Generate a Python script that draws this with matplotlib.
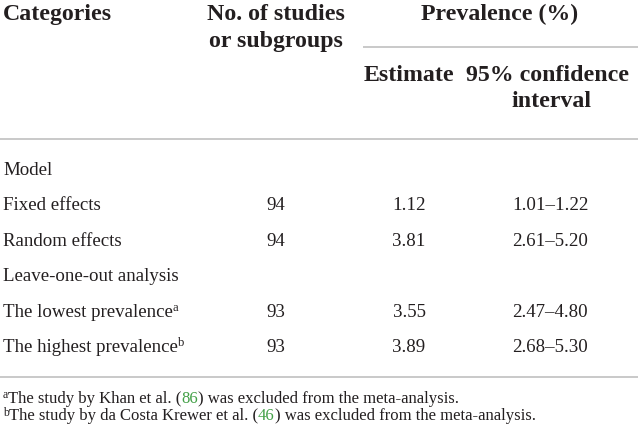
import matplotlib
matplotlib.use("Agg")
import matplotlib.pyplot as plt

# ---- data ----
categories = ["Model", "Fixed effects", "Random effects", "Leave-one-out analysis",
              "The lowest prevalence", "The highest prevalence"]
superscripts = [None, None, None, None, "a", "b"]
n_studies = [None, 94, 94, None, 93, 93]
estimates = [None, 1.12, 3.81, None, 3.55, 3.89]
ci_low = [None, 1.01, 2.61, None, 2.47, 2.68]
ci_high = [None, 1.22, 5.20, None, 4.80, 5.30]
footnotes = [
    ("a", "The study by Khan et al. (", "86", ") was excluded from the meta-analysis."),
    ("b", "The study by da Costa Krewer et al. (", "46", ") was excluded from the meta-analysis."),
]

FONT = "Liberation Serif"
TXT = "#231f20"
GREEN = "#43a047"
RULE = "#c9c9c9"
HS = 17.2   # header size
BS = 13.6   # body size
FS = 12.0   # footnote size

W, H = 638, 434
fig = plt.figure(figsize=(W / 100, H / 100), dpi=100)
ax = fig.add_axes([0, 0, 1, 1])
ax.set_xlim(0, W)
ax.set_ylim(H, 0)
ax.axis("off")
renderer = fig.canvas.get_renderer()


def seq(x, y, segs):
    """segs: list of (text, size, color, weight, dy)"""
    for text, size, color, weight, dy in segs:
        t = ax.text(x, y + dy, text, fontsize=size, color=color, fontweight=weight,
                    family=FONT, ha="left", va="baseline")
        bb = t.get_window_extent(renderer)
        x += bb.width


def txt(x, y, s, size=BS, weight="normal", ha="center"):
    ax.text(x, y, s, fontsize=size, color=TXT, fontweight=weight, family=FONT,
            ha=ha, va="baseline")


# ---- header ----
col_cat = 3
col_n = 276
col_est = 409
col_ci = 548

txt(col_cat, 20, "Categories", HS, "bold", ha="left")
txt(col_n, 20, "No. of studies", HS, "bold")
txt(col_n, 47, "or subgroups", HS, "bold")
txt(500, 20, "Prevalence (%)", HS, "bold")
ax.plot([363, W], [46.5, 46.5], color=RULE, lw=1.4, solid_capstyle="butt")
txt(col_est, 81, "Estimate", HS, "bold")
txt(col_ci, 81, "95% confidence", HS, "bold")
txt(col_ci + 3, 107, "interval", HS, "bold")
ax.plot([0, W], [139, 139], color=RULE, lw=1.4, solid_capstyle="butt")

# ---- body ----
y0, pitch = 175, 35.4
for i, cat in enumerate(categories):
    y = y0 + i * pitch
    segs = [(cat, BS, TXT, "normal", 0)]
    if superscripts[i]:
        segs.append((superscripts[i], BS * 0.66, TXT, "normal", -6))
    seq(col_cat, y, segs)
    if n_studies[i] is not None:
        txt(col_n, y, f"{n_studies[i]}")
    if estimates[i] is not None:
        txt(col_est, y, f"{estimates[i]:.2f}")
    if ci_low[i] is not None:
        txt(col_ci + 2, y, f"{ci_low[i]:.2f}\u2013{ci_high[i]:.2f}")

ax.plot([0, W], [377, 377], color=RULE, lw=1.4, solid_capstyle="butt")

# ---- footnotes ----
for j, (sup, pre, ref, post) in enumerate(footnotes):
    y = 403 + j * 17
    seq(3, y, [(sup, FS * 0.7, TXT, "normal", -4.5),
               (pre, FS, TXT, "normal", 0),
               (ref, FS, GREEN, "normal", 0),
               (post, FS, TXT, "normal", 0)])

fig.savefig("out.png", dpi=100)
